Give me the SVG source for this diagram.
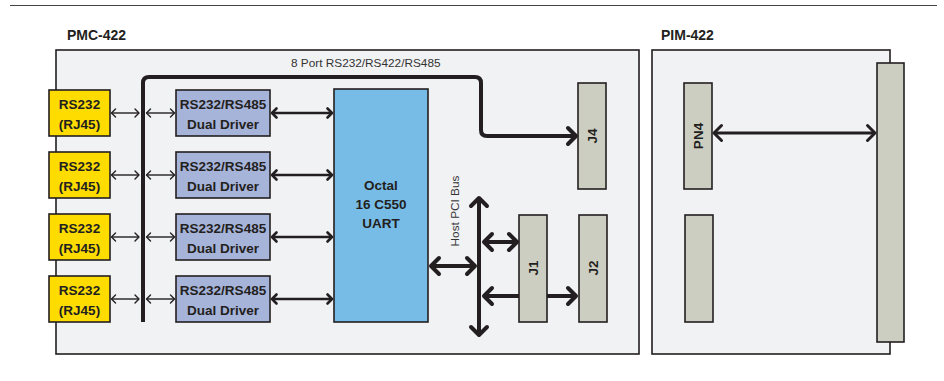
<svg xmlns="http://www.w3.org/2000/svg" width="944" height="381" viewBox="0 0 944 381">
<defs>
<style>
.ln{stroke:#231f20;fill:none;stroke-linecap:butt}
.board{fill:#f1f2f4;stroke:#231f20;stroke-width:1.6}
.yel{fill:#ffdc00;stroke:#231f20;stroke-width:1.6}
.drv{fill:#a7b4da;stroke:#231f20;stroke-width:1.6}
.uart{fill:#77bce6;stroke:#231f20;stroke-width:1.6}
.con{fill:#cdcec2;stroke:#231f20;stroke-width:1.6}
.t{font-family:"Liberation Sans",Arial,sans-serif;fill:#231f20}
.b{font-weight:bold;font-size:13.5px;text-anchor:middle}
.lbl{font-weight:bold;font-size:14px}
.sm{font-size:11.8px;fill:#333}
</style>
<marker id="aThin" viewBox="-10 -10 20 20" markerWidth="20" markerHeight="20" refX="0" refY="0" orient="auto-start-reverse" markerUnits="userSpaceOnUse">
<path d="M-4,-4 L0,0 L-4,4" fill="none" stroke="#231f20" stroke-width="1.4" stroke-linecap="round" stroke-linejoin="round"/>
</marker>
<marker id="aMed" viewBox="-10 -10 20 20" markerWidth="20" markerHeight="20" refX="0" refY="0" orient="auto-start-reverse" markerUnits="userSpaceOnUse">
<path d="M-4.5,-4.5 L0,0 L-4.5,4.5" fill="none" stroke="#231f20" stroke-width="2.6" stroke-linecap="round" stroke-linejoin="round"/>
</marker>
<marker id="aBig" viewBox="-14 -14 28 28" markerWidth="28" markerHeight="28" refX="0" refY="0" orient="auto-start-reverse" markerUnits="userSpaceOnUse">
<path d="M-8,-8 L0,0 L-8,8" fill="none" stroke="#231f20" stroke-width="4" stroke-linecap="round" stroke-linejoin="round"/>
</marker>
<marker id="aPn" viewBox="-14 -14 28 28" markerWidth="28" markerHeight="28" refX="0" refY="0" orient="auto-start-reverse" markerUnits="userSpaceOnUse">
<path d="M-7.5,-7.5 L0,0 L-7.5,7.5" fill="none" stroke="#231f20" stroke-width="3" stroke-linecap="round" stroke-linejoin="round"/>
</marker>
</defs>
<rect width="944" height="381" fill="#ffffff"/>
<line x1="10" y1="5.5" x2="937" y2="5.5" stroke="#444" stroke-width="1.2"/>

<g id="pmc-422">
<rect class="board" x="56" y="50" width="583" height="304"/>
<text class="t lbl" x="67" y="40">PMC-422</text>
</g>
<g id="pim-422">
<rect class="board" x="652" y="50" width="238" height="304"/>
<text class="t lbl" x="661" y="40">PIM-422</text>
</g>

<g id="connectors">
<path class="ln" stroke-width="4" d="M143,322 V83 Q143,77 149,77 H475 Q481,77 481,83 V130 Q481,136 487,136 H576" marker-end="url(#aBig)"/>
<text class="t sm" x="291" y="67">8 Port RS232/RS422/RS485</text>
<g stroke-width="1.4" class="ln">
<line x1="111.5" y1="113" x2="139" y2="113" marker-start="url(#aThin)" marker-end="url(#aThin)"/>
<line x1="146.5" y1="113" x2="174.5" y2="113" marker-start="url(#aThin)" marker-end="url(#aThin)"/>
<line x1="111.5" y1="175" x2="139" y2="175" marker-start="url(#aThin)" marker-end="url(#aThin)"/>
<line x1="146.5" y1="175" x2="174.5" y2="175" marker-start="url(#aThin)" marker-end="url(#aThin)"/>
<line x1="111.5" y1="237" x2="139" y2="237" marker-start="url(#aThin)" marker-end="url(#aThin)"/>
<line x1="146.5" y1="237" x2="174.5" y2="237" marker-start="url(#aThin)" marker-end="url(#aThin)"/>
<line x1="111.5" y1="299" x2="139" y2="299" marker-start="url(#aThin)" marker-end="url(#aThin)"/>
<line x1="146.5" y1="299" x2="174.5" y2="299" marker-start="url(#aThin)" marker-end="url(#aThin)"/>
</g>
<g stroke-width="2.6" class="ln">
<line x1="272" y1="113" x2="332" y2="113" marker-start="url(#aMed)" marker-end="url(#aMed)"/>
<line x1="272" y1="175" x2="332" y2="175" marker-start="url(#aMed)" marker-end="url(#aMed)"/>
<line x1="272" y1="237" x2="332" y2="237" marker-start="url(#aMed)" marker-end="url(#aMed)"/>
<line x1="272" y1="299" x2="332" y2="299" marker-start="url(#aMed)" marker-end="url(#aMed)"/>
</g>
<g stroke-width="4" class="ln">
<line x1="479" y1="198" x2="479" y2="335" marker-start="url(#aBig)" marker-end="url(#aBig)"/>
<line x1="431" y1="266" x2="475" y2="266" marker-start="url(#aBig)" marker-end="url(#aBig)"/>
<line x1="484" y1="242" x2="517" y2="242" marker-start="url(#aBig)" marker-end="url(#aBig)"/>
<line x1="484" y1="296" x2="576" y2="296" marker-start="url(#aBig)" marker-end="url(#aBig)"/>
</g>
<line class="ln" stroke-width="3" x1="714" y1="133" x2="875" y2="133" marker-start="url(#aPn)" marker-end="url(#aPn)"/>
<text class="t sm" transform="translate(455,211) rotate(-90)" text-anchor="middle" y="4" font-size="11.5">Host PCI Bus</text>
</g>

<g id="rs232-1"><rect class="yel" x="49" y="90" width="61" height="46"/><text class="t b" x="79.5" y="108.5">RS232</text><text class="t b" x="79.5" y="128.5">(RJ45)</text></g>
<g id="rs232-2"><rect class="yel" x="49" y="152" width="61" height="46"/><text class="t b" x="79.5" y="170.5">RS232</text><text class="t b" x="79.5" y="190.5">(RJ45)</text></g>
<g id="rs232-3"><rect class="yel" x="49" y="214" width="61" height="46"/><text class="t b" x="79.5" y="232.5">RS232</text><text class="t b" x="79.5" y="252.5">(RJ45)</text></g>
<g id="rs232-4"><rect class="yel" x="49" y="276" width="61" height="46"/><text class="t b" x="79.5" y="294.5">RS232</text><text class="t b" x="79.5" y="314.5">(RJ45)</text></g>

<g id="driver-1"><rect class="drv" x="176" y="90" width="94" height="46"/><text class="t b" x="223" y="108.5">RS232/RS485</text><text class="t b" x="223" y="128.5">Dual Driver</text></g>
<g id="driver-2"><rect class="drv" x="176" y="152" width="94" height="46"/><text class="t b" x="223" y="170.5">RS232/RS485</text><text class="t b" x="223" y="190.5">Dual Driver</text></g>
<g id="driver-3"><rect class="drv" x="176" y="214" width="94" height="46"/><text class="t b" x="223" y="232.5">RS232/RS485</text><text class="t b" x="223" y="252.5">Dual Driver</text></g>
<g id="driver-4"><rect class="drv" x="176" y="276" width="94" height="46"/><text class="t b" x="223" y="294.5">RS232/RS485</text><text class="t b" x="223" y="314.5">Dual Driver</text></g>

<g id="uart"><rect class="uart" x="334" y="89" width="94" height="233"/>
<text class="t b" x="381" y="190" font-size="14">Octal</text>
<text class="t b" x="381" y="209" font-size="14">16 C550</text>
<text class="t b" x="381" y="228" font-size="14">UART</text></g>

<g id="j4"><rect class="con" x="578" y="83" width="28" height="106"/><text class="t b" transform="translate(592,136) rotate(-90)" y="5">J4</text></g>
<g id="j1"><rect class="con" x="519" y="215" width="28" height="107"/><text class="t b" transform="translate(533,268) rotate(-90)" y="5">J1</text></g>
<g id="j2"><rect class="con" x="579" y="215" width="28" height="107"/><text class="t b" transform="translate(593,268) rotate(-90)" y="5">J2</text></g>
<g id="pn4"><rect class="con" x="684" y="83" width="28" height="106"/><text class="t b" transform="translate(698,136) rotate(-90)" y="5">PN4</text></g>
<g id="pim-block"><rect class="con" x="685" y="215" width="28" height="107"/></g>
<g id="pim-connector"><rect class="con" x="877" y="63" width="27" height="279"/></g>
</svg>
